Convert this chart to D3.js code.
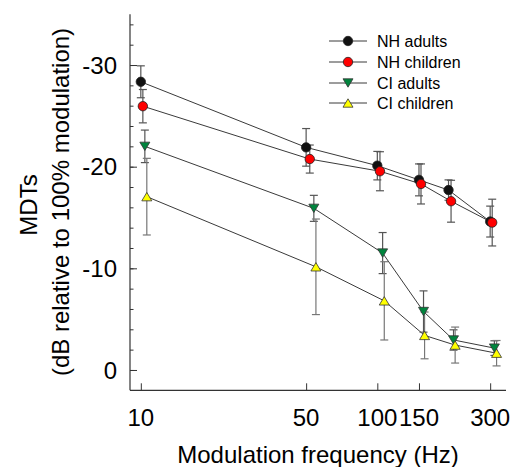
<!DOCTYPE html>
<html>
<head>
<meta charset="utf-8">
<script src="https://cdn.jsdelivr.net/npm/d3@7/dist/d3.min.js"></script>
<style>
  html, body { margin: 0; padding: 0; background: #fff; }
  svg { display: block; font-family: "Liberation Sans", Arial, sans-serif; }
</style>
</head>
<body>
<svg id="chart" width="523" height="467"></svg>
<script>
// ---------- data ----------
const xTickValues = [10, 50, 100, 150, 300];
const yMajorTicks = [0, -10, -20, -30];
const yMinorTicks = d3.range(0, -35, -2);

const seriesNames = ["NH adults", "NH children", "CI adults", "CI children"];
const seriesColors = ["#111111", "#ff0000", "#00843d", "#ffff00"];
const seriesSymbols = ["circle", "circle", "triangleDown", "triangleUp"];

// plotted x positions (Hz) – slightly staggered per group as in the figure
const xNHadults   = [10,   50,   100,   150,   200,   300];
const xNHchildren = [10.2, 51.8, 102.6, 153,   205,   306];
const xCIadults   = [10.4, 53.9, 105.3, 156.8, 210,   312.6];
const xCIchildren = [10.6, 55,   107,   158.4, 213.3, 319.3];

// MDT means (dB re 100% modulation)
const yNHadults   = [-28.35, -21.9, -20.1, -18.7, -17.7, -14.6];
const yNHchildren = [-25.95, -20.75, -19.55, -18.3, -16.6, -14.5];
const yCIadults   = [-22.0, -15.9, -11.5, -5.75, -2.95, -2.15];
const yCIchildren = [-17.05, -10.15, -6.8, -3.4, -2.45, -1.65];

// error bar half-lengths (dB)
const eNHadults   = [1.57, 1.85, 1.4, 1.57, 1.0, 1.52];
const eNHchildren = [1.64, 1.38, 1.92, 1.97, 2.06, 2.3];
const eCIadults   = [1.6, 1.28, 2.02, 2.03, 1.0, 0.72];
const eCIchildren = [3.77, 4.7, 3.85, 2.3, 1.77, 1.25];

const xData = [xNHadults, xNHchildren, xCIadults, xCIchildren];
const yData = [yNHadults, yNHchildren, yCIadults, yCIchildren];
const eData = [eNHadults, eNHchildren, eCIadults, eCIchildren];

const series = seriesNames.map((name, i) => ({
  name, color: seriesColors[i], symbol: seriesSymbols[i],
  points: xData[i].map((x, j) => ({ x, y: yData[i][j], e: eData[i][j] }))
}));

// ---------- layout ----------
const svg = d3.select("#chart");
const x = d3.scaleLog().domain([9, 350]).range([130, 506]);
const y = d3.scaleLinear().domain([2, -35]).range([390.3, 14.2]);

const axisColor = "#333";
const fontBig = 24;

// axes lines
const yAxisG = svg.append("g").attr("transform", `translate(${x.range()[0]},0)`);
yAxisG.call(d3.axisRight(y).tickValues(yMinorTicks).tickSize(3.5).tickFormat(""));
yAxisG.select(".domain").remove();
yAxisG.selectAll(".tick line").attr("stroke", axisColor);
const yMajG = svg.append("g").attr("transform", `translate(${x.range()[0]},0)`);
yMajG.call(d3.axisRight(y).tickValues(yMajorTicks).tickSize(7).tickFormat(""));
yMajG.select(".domain").remove();
yMajG.selectAll(".tick line").attr("stroke", axisColor);

svg.append("line")
  .attr("x1", x.range()[0]).attr("x2", x.range()[0])
  .attr("y1", y.range()[1]).attr("y2", y.range()[0])
  .attr("stroke", axisColor).attr("stroke-width", 1.2);

// y tick labels
svg.append("g").selectAll("text").data(yMajorTicks).join("text")
  .attr("x", 117).attr("y", d => y(d)).attr("dy", "0.36em")
  .attr("text-anchor", "end").attr("font-size", fontBig).attr("fill", "#000")
  .text(d => d3.format("d")(d).replace("−", "-"));

// x axis
const xAxisG = svg.append("g").attr("transform", `translate(0,${y.range()[0]})`);
xAxisG.call(d3.axisTop(x).tickValues(xTickValues).tickSize(7).tickFormat(""));
xAxisG.select(".domain").remove();
xAxisG.selectAll(".tick line").attr("stroke", axisColor);
svg.append("line")
  .attr("x1", x.range()[0]).attr("x2", x.range()[1])
  .attr("y1", y.range()[0]).attr("y2", y.range()[0])
  .attr("stroke", axisColor).attr("stroke-width", 1.2);

svg.append("g").selectAll("text").data(xTickValues).join("text")
  .attr("x", d => x(d)).attr("y", 426)
  .attr("text-anchor", "middle").attr("font-size", fontBig).attr("fill", "#000")
  .text(d => d);

// axis titles
svg.append("text")
  .attr("x", 318).attr("y", 463)
  .attr("text-anchor", "middle").attr("font-size", fontBig).attr("fill", "#000")
  .text("Modulation frequency (Hz)");

svg.append("text")
  .attr("transform", "translate(37,205) rotate(-90)")
  .attr("text-anchor", "middle").attr("font-size", fontBig).attr("fill", "#000")
  .text("MDTs");
svg.append("text")
  .attr("transform", "translate(68.5,202) rotate(-90)")
  .attr("text-anchor", "middle").attr("font-size", fontBig).attr("fill", "#000")
  .text("(dB relative to 100% modulation)");

// ---------- marks ----------
const lineGen = d3.line().x(d => x(d.x)).y(d => y(d.y));

svg.append("g").selectAll("path").data(series).join("path")
  .attr("d", s => lineGen(s.points))
  .attr("fill", "none").attr("stroke", "#3a3a3a").attr("stroke-width", 1);

// error bars
const barG = svg.append("g");
series.forEach((s, i) => {
  const col = i === 3 ? "#777" : "#555";
  const g = barG.append("g");
  g.selectAll("line.v").data(s.points).join("line").attr("class", "v")
    .attr("x1", d => x(d.x)).attr("x2", d => x(d.x))
    .attr("y1", d => y(d.y - d.e)).attr("y2", d => y(d.y + d.e))
    .attr("stroke", col).attr("stroke-width", 1.2);
  [-1, 1].forEach(sg => {
    g.selectAll("line.c" + (sg > 0 ? "p" : "m")).data(s.points).join("line")
      .attr("class", "c" + (sg > 0 ? "p" : "m"))
      .attr("x1", d => x(d.x) - 4).attr("x2", d => x(d.x) + 4)
      .attr("y1", d => y(d.y + sg * d.e)).attr("y2", d => y(d.y + sg * d.e))
      .attr("stroke", col).attr("stroke-width", 1.2);
  });
});

function symbolPath(sym, cx, cy) {
  if (sym === "circle") return null;
  const w = 5, h = 4.2;
  if (sym === "triangleDown")
    return `M${cx - w},${cy - h}L${cx + w},${cy - h}L${cx},${cy + h}Z`;
  return `M${cx - w},${cy + h}L${cx + w},${cy + h}L${cx},${cy - h}Z`;
}

function drawMarker(g, sym, color, cx, cy) {
  if (sym === "circle") {
    g.append("circle").attr("cx", cx).attr("cy", cy).attr("r", 4.7)
      .attr("fill", color).attr("stroke", "#222").attr("stroke-width", 0.8);
  } else {
    g.append("path").attr("d", symbolPath(sym, cx, cy))
      .attr("fill", color).attr("stroke", "#333").attr("stroke-width", 0.8);
  }
}

const markG = svg.append("g");
series.forEach(s => {
  s.points.forEach(p => drawMarker(markG, s.symbol, s.color, x(p.x), y(p.y)));
});

// ---------- legend ----------
const legendRowY = [41, 62, 83, 103];
const legG = svg.append("g");
series.forEach((s, i) => {
  const ly = legendRowY[i];
  legG.append("line").attr("x1", 329).attr("x2", 367).attr("y1", ly).attr("y2", ly)
    .attr("stroke", "#3a3a3a").attr("stroke-width", 1);
  drawMarker(legG, s.symbol, s.color, 348, ly);
  legG.append("text").attr("x", 377).attr("y", ly).attr("dy", "0.36em")
    .attr("font-size", 16).attr("fill", "#000").text(s.name);
});
</script>
</body>
</html>
